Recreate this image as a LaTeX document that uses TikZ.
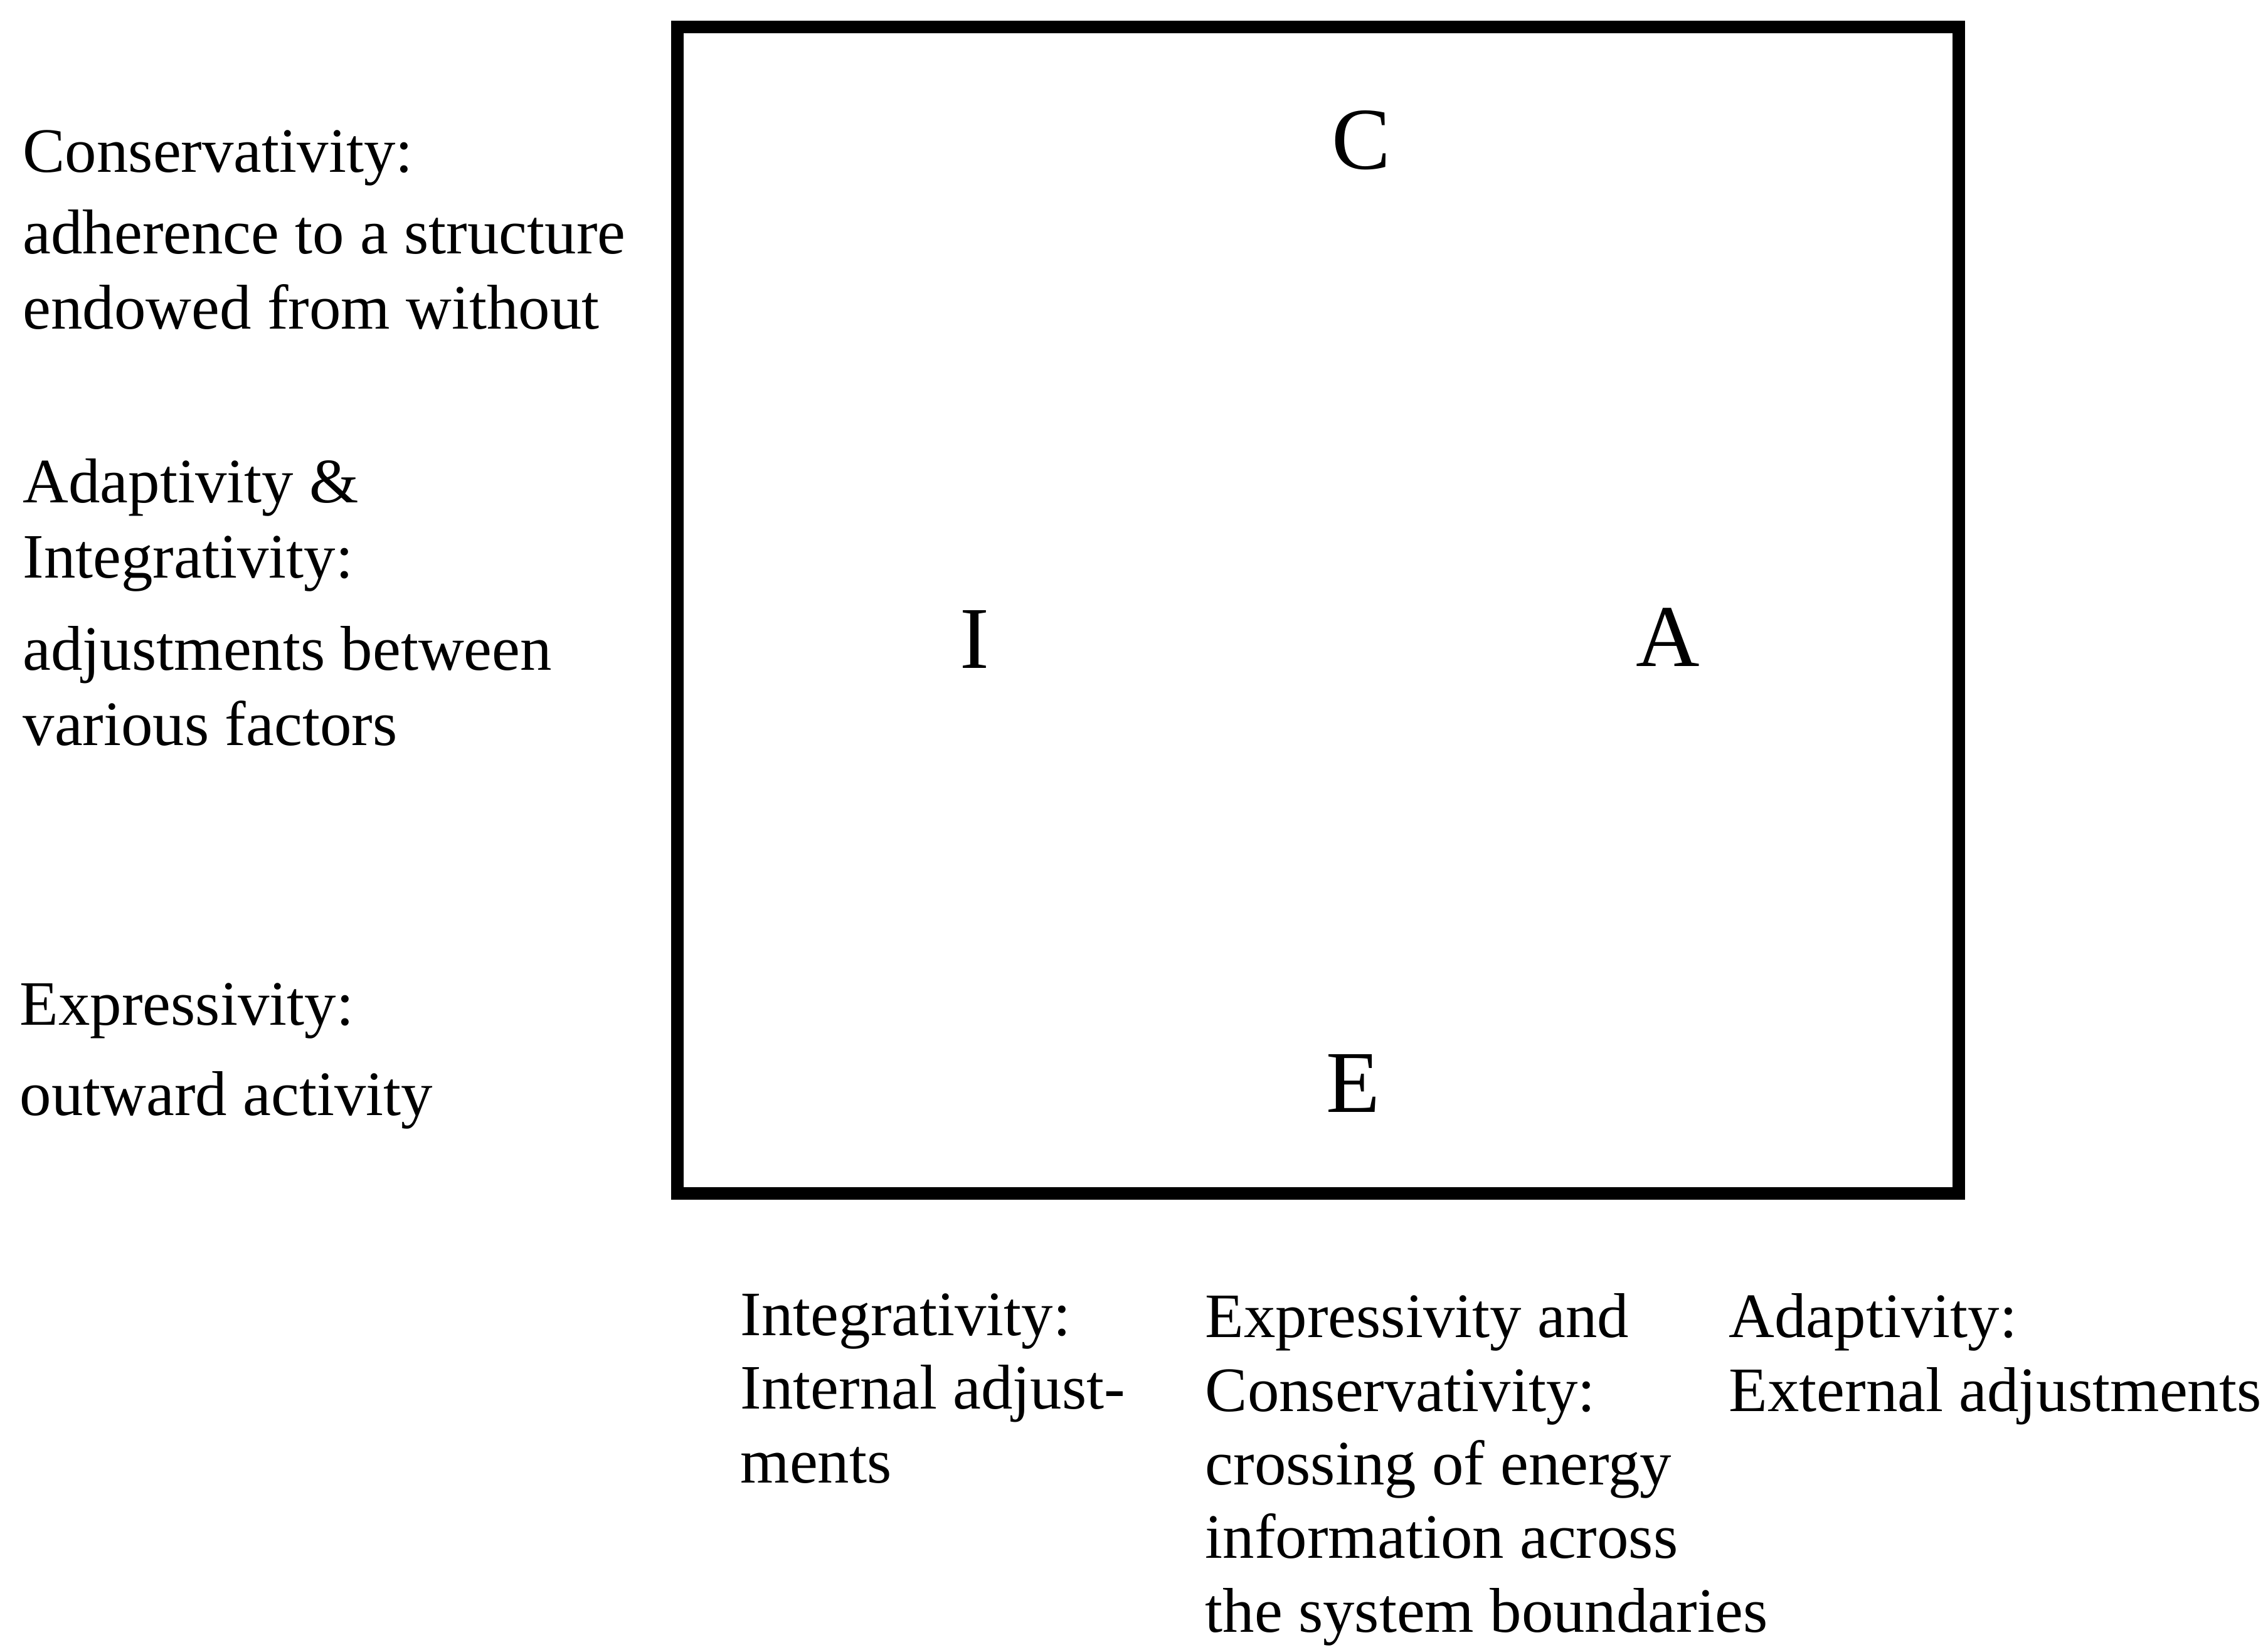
\documentclass[tikz,border=0pt]{standalone}
\usepackage{fontspec}
\setmainfont{Liberation Serif}
\usetikzlibrary{positioning}
\definecolor{agilink}{HTML}{000000}

\tikzset{
  sidetext/.style={anchor=north west, inner sep=0pt, align=left, text=agilink, font=\fontsize{28.7}{34}\selectfont},
  cornerletter/.style={anchor=base, inner sep=0pt, text=agilink, font=\fontsize{40}{48}\selectfont}
}

\begin{document}
\begin{tikzpicture}
\useasboundingbox (0,0) rectangle (36.16,-26.31);

% the system square
\node[draw=agilink, line width=5.5pt, minimum width=20.43cm, minimum height=18.6cm, inner sep=0pt] (frame) at (21.015,-9.73) {};

\node[cornerletter] (lc) at (21.70,-2.70) {C};
\node[cornerletter] (li) at (15.54,-10.66) {I};
\node[cornerletter] (la) at (26.59,-10.63) {A};
\node[cornerletter] (le) at (21.57,-17.73) {E};

% labels on the left
\node[sidetext] (conserv) at (0.36,-2.07) {Conservativity:\\[3pt]
  adherence to a structure\\
  endowed from without};
\node[sidetext] (adaptinteg) at (0.36,-7.31) {Adaptivity \&\\
  Integrativity:\\[8pt]
  adjustments between\\
  various factors};
\node[sidetext] (express) at (0.31,-15.67) {Expressivity:\\[7pt]
  outward activity};

% labels below
\node[sidetext, font=\fontsize{28.7}{33.4}\selectfont] (integ) at (11.80,-20.62) {Integrativity:\\
  Internal adjust-\\
  ments};
\node[sidetext, font=\fontsize{28.7}{33.4}\selectfont] (exprcons) at (19.21,-20.62) {Expressivity and\\
  Conservativity:\\
  crossing of energy\\
  information across\\
  the system boundaries};
\node[sidetext, font=\fontsize{28.7}{33.4}\selectfont] (adapt) at (27.56,-20.62) {Adaptivity:\\
  External adjustments};
\end{tikzpicture}
\end{document}
